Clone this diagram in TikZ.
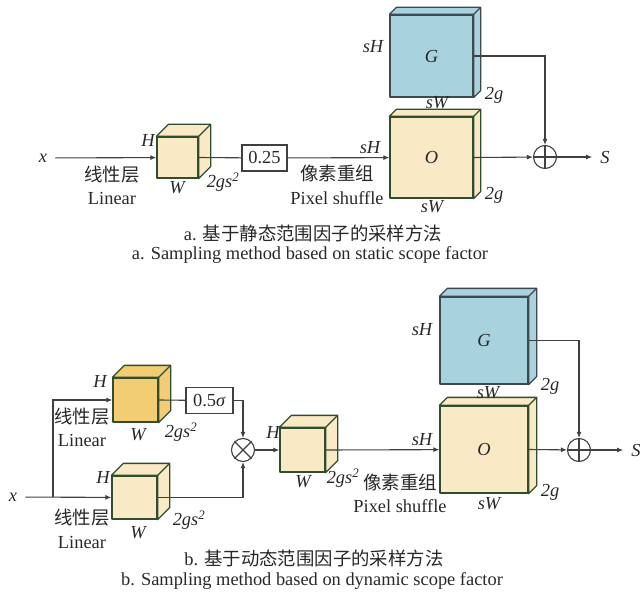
\documentclass[tikz,border=0pt]{standalone}
\usepackage{fontspec}
\setmainfont{Liberation Serif}
\newfontfamily\cjk{Noto Sans CJK SC}
\usetikzlibrary{arrows.meta,calc}

\definecolor{cubeyellow}{RGB}{249,233,197}
\definecolor{cubeorange}{RGB}{243,205,116}
\definecolor{cubeblue}{RGB}{168,210,222}
\definecolor{edgegreen}{RGB}{46,78,46}
\definecolor{edgeslate}{RGB}{62,72,78}
\definecolor{linegray}{RGB}{64,64,64}
\definecolor{textgray}{RGB}{40,40,40}

\newcommand{\figfont}{\fontsize{18.4}{22}\selectfont}
% top and right faces of a cube, from its front node
\newcommand{\cubesides}[3]{
    \draw[#3] (#1.north west) -- ++(#2,-#2)
        -- ($(#1.north east)+(#2,-#2)$)
        -- ($(#1.south east)+(#2,-#2)$)
        -- (#1.south east) -- (#1.north east) -- cycle;
    \draw[#3] (#1.north east) -- ++(#2,-#2);
}

\begin{document}
\begin{tikzpicture}[
    x=1pt,y=-1pt,
    every node/.style={font=\figfont,text=textgray},
    lbl/.style={inner sep=0pt,font=\figfont\itshape},
    term/.style={lbl,inner sep=8pt},
    cn/.style={inner sep=0pt,font=\figfont\cjk},
    cubeface/.style={draw,line width=1.3pt,inner sep=0pt,line join=round},
    yface/.style={cubeface,fill=cubeyellow,draw=edgegreen},
    oface/.style={cubeface,fill=cubeorange,draw=edgegreen},
    bface/.style={cubeface,fill=cubeblue,draw=edgeslate},
    valbox/.style={draw=linegray,line width=1.1pt,fill=white,
        minimum height=26pt,inner sep=0pt},
    opnode/.style={circle,draw=linegray,line width=1.1pt,
        minimum size=23pt,inner sep=0pt},
    conn/.style={draw=linegray,line width=1.1pt},
    arr/.style={conn,-{Latex[length=6pt,width=5pt]}}
]
\useasboundingbox (0,0) rectangle (640,596);

% a. static scope factor
\node[term] (xa) at (43,158) {x};
\node[yface,minimum width=41pt,minimum height=41pt] (lina) at (177.5,157.5) {};
\cubesides{lina}{12}{yface}
\node[valbox,minimum width=45pt] (qa) at (264.5,158) {0.25};
\node[yface,minimum width=83pt,minimum height=81pt,font=\figfont\itshape] (oa) at (431.5,157.5) {O};
\cubesides{oa}{7}{yface}
\node[bface,minimum width=83pt,minimum height=82pt,font=\figfont\itshape] (ga) at (431.5,56) {G};
\cubesides{ga}{7}{bface}
\node[opnode] (pa) at (545,157) {};
\node[term] (sa) at (605,157) {S};

\node[lbl] at (148,140) {H};
\node[lbl] at (177,188) {W};
\node[lbl] at (223,182) {2gs\textsuperscript{2}};
\node[cn] at (112,175) {线性层};
\node at (112,198) {Linear};
\node[cn] at (337,173) {像素重组};
\node at (337,198) {Pixel shuffle};
\node[lbl] at (370,148) {sH};
\node[lbl] at (373,47) {sH};
\node[lbl] at (437,103) {sW};
\node[lbl] at (432,207) {sW};
\node[lbl] at (494,95) {2g};
\node[lbl] at (494,195) {2g};

\draw[arr] (xa) -- (lina);
\draw[conn] (lina.east) -- (qa);
\draw[arr] (qa) -- (oa);
\draw[arr] (oa.east) -- (pa);
\draw[arr] (ga.east) -| (pa.north);
\draw[arr] (pa) -- (sa);
\draw[conn] (pa.north) -- (pa.south) (pa.west) -- (pa.east);

\node (capa1) at (313,233) {a. {\cjk 基于静态范围因子的采样方法}};
\node (capa2) at (310,255) {a. Sampling method based on static scope factor};

% b. dynamic scope factor
\node[term] (xb) at (13,497) {x};
\node[oface,minimum width=45pt,minimum height=44pt] (linb1) at (135.5,400) {};
\cubesides{linb1}{12}{oface}
\node[yface,minimum width=45pt,minimum height=43pt] (linb2) at (134.5,497.5) {};
\cubesides{linb2}{12}{yface}
\node[valbox,minimum width=47pt] (qb) at (209.5,400.5) {0.5\textit{σ}};
\node[opnode] (mb) at (243,450) {};
\node[yface,minimum width=45pt,minimum height=44pt] (midb) at (302.5,450) {};
\cubesides{midb}{12}{yface}
\node[yface,minimum width=88pt,minimum height=87pt,font=\figfont\itshape] (ob) at (484,449.5) {O};
\cubesides{ob}{8}{yface}
\node[bface,minimum width=88pt,minimum height=87pt,font=\figfont\itshape] (gb) at (484,340.5) {G};
\cubesides{gb}{8}{bface}
\node[opnode] (pb) at (579,450) {};
\node[term] (sb) at (636,450) {S};
\coordinate (br) at (53,497);

\node[lbl] at (100,381) {H};
\node[lbl] at (138,435) {W};
\node[lbl] at (181,432) {2gs\textsuperscript{2}};
\node[cn] at (82,417) {线性层};
\node at (82,440) {Linear};
\node[lbl] at (103,477) {H};
\node[lbl] at (138,533) {W};
\node[lbl] at (189,520) {2gs\textsuperscript{2}};
\node[cn] at (82,518) {线性层};
\node at (82,542) {Linear};
\node[lbl] at (273,432) {H};
\node[lbl] at (303,482) {W};
\node[lbl] at (343,478) {2gs\textsuperscript{2}};
\node[cn] at (400,482) {像素重组};
\node at (400,506) {Pixel shuffle};
\node[lbl] at (422,330) {sH};
\node[lbl] at (488,393) {sW};
\node[lbl] at (550,386) {2g};
\node[lbl] at (422,440) {sH};
\node[lbl] at (489,504) {sW};
\node[lbl] at (550,492) {2g};

\draw[arr] (xb) -- (linb2);
\draw[arr] (br) |- (linb1);
\draw[conn] (linb1.east) -- (qb);
\draw[arr] (qb.east) -| (mb.north);
\draw[arr] (linb2.east) -| (mb.south);
\draw[arr] (mb) -- (midb);
\draw[arr] (midb.east) -- (ob);
\draw[arr] (ob.east) -- (pb);
\draw[arr] (gb.east) -| (pb.north);
\draw[arr] (pb) -- (sb);
\draw[conn] (mb.north west) -- (mb.south east) (mb.north east) -- (mb.south west);
\draw[conn] (pb.north) -- (pb.south) (pb.west) -- (pb.east);

\node (capb1) at (314,558) {b. {\cjk 基于动态范围因子的采样方法}};
\node (capb2) at (312,581) {b. Sampling method based on dynamic scope factor};

\end{tikzpicture}
\end{document}
